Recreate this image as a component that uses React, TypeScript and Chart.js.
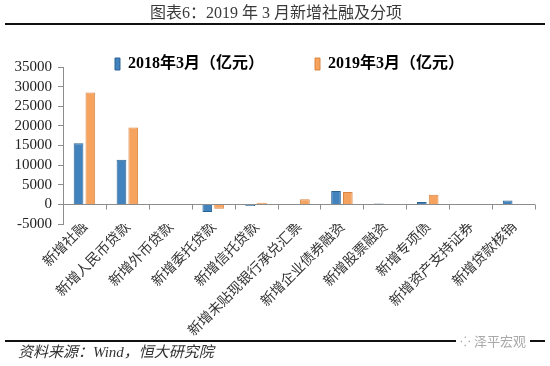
import React, { useEffect, useRef } from "react";
import { Chart, registerables } from "chart.js";

Chart.register(...registerables);

const categories = [
  "新增社融",
  "新增人民币贷款",
  "新增外币贷款",
  "新增委托贷款",
  "新增信托贷款",
  "新增未贴现银行承兑汇票",
  "新增企业债券融资",
  "新增股票融资",
  "新增专项债",
  "新增资产支持证券",
  "新增贷款核销",
];
const seriesNames = ["2018年3月（亿元）", "2019年3月（亿元）"];
const values2018 = [15600, 11400, 50, -1960, -400, -100, 3400, 200, 600, 100, 1000];
const values2019 = [28500, 19600, -50, -1100, 400, 1300, 3150, 80, 2450, 30, null];
const yTickMin = -5000;
const yTickMax = 35000;
const yTickStep = 5000;

const zeroAxisPlugin = {
  id: "zeroAxis",
  afterDatasetsDraw(chart: any) {
    const { ctx, scales } = chart;
    const x = scales.x;
    const y = scales.y;
    const y0 = Math.round(y.getPixelForValue(0)) + 0.5;
    ctx.save();
    ctx.strokeStyle = "#8c8c8c";
    ctx.lineWidth = 1;
    ctx.beginPath();
    ctx.moveTo(x.left, y0);
    ctx.lineTo(x.right, y0);
    const n = categories.length;
    for (let i = 1; i <= n; i++) {
      const px = Math.round(x.left + ((x.right - x.left) * i) / n) + 0.5;
      ctx.moveTo(px, y0);
      ctx.lineTo(px, y0 + 5);
    }
    ctx.stroke();
    ctx.restore();
  },
};

const LEGEND_SHIFT = 17;
const legendFitPlugin = {
  id: "legendFit",
  beforeInit(chart: any) {
    const lg = chart.legend;
    if (lg && !lg.__patched) {
      const origFit = lg.fit;
      lg.fit = function () {
        origFit.call(this);
        this.height = 62;
      };
      const origDraw = lg.draw;
      lg.draw = function (...args: any[]) {
        const c = this.ctx;
        const b = this.bottom;
        const h = this.height;
        this.bottom = b + 20;
        this.height = h + 20;
        c.save();
        c.translate(LEGEND_SHIFT, 0);
        origDraw.apply(this, args);
        c.restore();
        this.bottom = b;
        this.height = h;
      };
      lg.__patched = true;
    }
  },
};

export default function App() {
  const ref = useRef<HTMLCanvasElement | null>(null);
  useEffect(() => {
    if (!ref.current) return;
    const chart = new Chart(ref.current, {
      type: "bar",
      data: {
        labels: categories,
        datasets: [
          {
            label: seriesNames[0],
            data: values2018,
            backgroundColor: "#4383bd",
            borderColor: "#2c6494",
            borderWidth: 1,
            categoryPercentage: 0.55,
            barPercentage: 0.82,
          },
          {
            label: seriesNames[1],
            data: values2019 as any,
            backgroundColor: "#f6a35f",
            borderColor: "#d98440",
            borderWidth: 1,
            categoryPercentage: 0.55,
            barPercentage: 0.82,
          },
        ],
      },
      options: {
        animation: false,
        responsive: false,
        maintainAspectRatio: false,
        layout: { padding: { left: 10, right: 15, top: 5, bottom: 0 } },
        plugins: {
          title: { display: false },
          tooltip: { enabled: false },
          legend: {
            display: true,
            position: "top",
            labels: {
              boxWidth: 5,
              boxHeight: 12,
              padding: 51,
              color: "#000",
              font: { family: "'Liberation Serif', 'Noto Sans CJK SC'", size: 16, weight: "bold" },
            },
          },
        },
        scales: {
          x: {
            grid: { display: false, drawTicks: false },
            border: { display: false },
            ticks: {
              autoSkip: false,
              maxRotation: 45,
              minRotation: 45,
              padding: -6,
              color: "#333",
              font: { family: "'Noto Sans CJK SC'", size: 14 },
            },
            afterFit(scale: any) {
              scale.height = 142;
            },
          },
          y: {
            min: yTickMin,
            max: yTickMax,
            ticks: {
              stepSize: yTickStep,
              autoSkip: false,
              padding: 6,
              color: "#222",
              font: { family: "'Liberation Serif'", size: 15 },
              callback: (v: any) => String(v),
            },
            grid: {
              display: true,
              drawOnChartArea: false,
              drawTicks: true,
              tickLength: 5,
              color: "#8c8c8c",
            },
            border: { display: true, color: "#8c8c8c", width: 1 },
            afterFit(scale: any) {
              scale.width = 53;
            },
          },
        },
      },
      plugins: [zeroAxisPlugin, legendFitPlugin],
    });
    return () => chart.destroy();
  }, []);

  return (
    <div style={{ position: "absolute", left: 0, top: 0, width: 550, height: 366, background: "#fff", overflow: "hidden" }}>
      <canvas ref={ref} width={550} height={366} style={{ position: "absolute", left: 0, top: 0, width: 550, height: 366 }} />
      <div
        style={{
          position: "absolute",
          left: 0,
          top: 4,
          width: 552,
          textAlign: "center",
          fontFamily: "'Liberation Serif', 'Noto Sans CJK SC'",
          fontSize: 16,
          lineHeight: "18px",
          color: "#3a3a3a",
          whiteSpace: "nowrap",
        }}
      >
        图表6：2019 年 3 月新增社融及分项
      </div>
      <div style={{ position: "absolute", left: 5, top: 23, width: 540, height: 2, background: "#111" }} />
      <div style={{ position: "absolute", left: 5, top: 340, width: 540, height: 2, background: "#111" }} />
      <div
        style={{
          position: "absolute",
          left: 456,
          top: 333,
          padding: "0 4px",
          background: "#fff",
          color: "#a8a8a8",
          fontFamily: "'Noto Sans CJK SC'",
          fontSize: 13,
          lineHeight: "16px",
          whiteSpace: "nowrap",
        }}
      >
        ⁘ 泽平宏观
      </div>
      <div
        style={{
          position: "absolute",
          left: 18,
          top: 343,
          fontFamily: "'Liberation Serif', 'Noto Sans CJK SC'",
          fontStyle: "italic",
          fontSize: 15,
          lineHeight: "18px",
          color: "#333",
          whiteSpace: "nowrap",
        }}
      >
        资料来源：Wind，恒大研究院
      </div>
    </div>
  );
}
